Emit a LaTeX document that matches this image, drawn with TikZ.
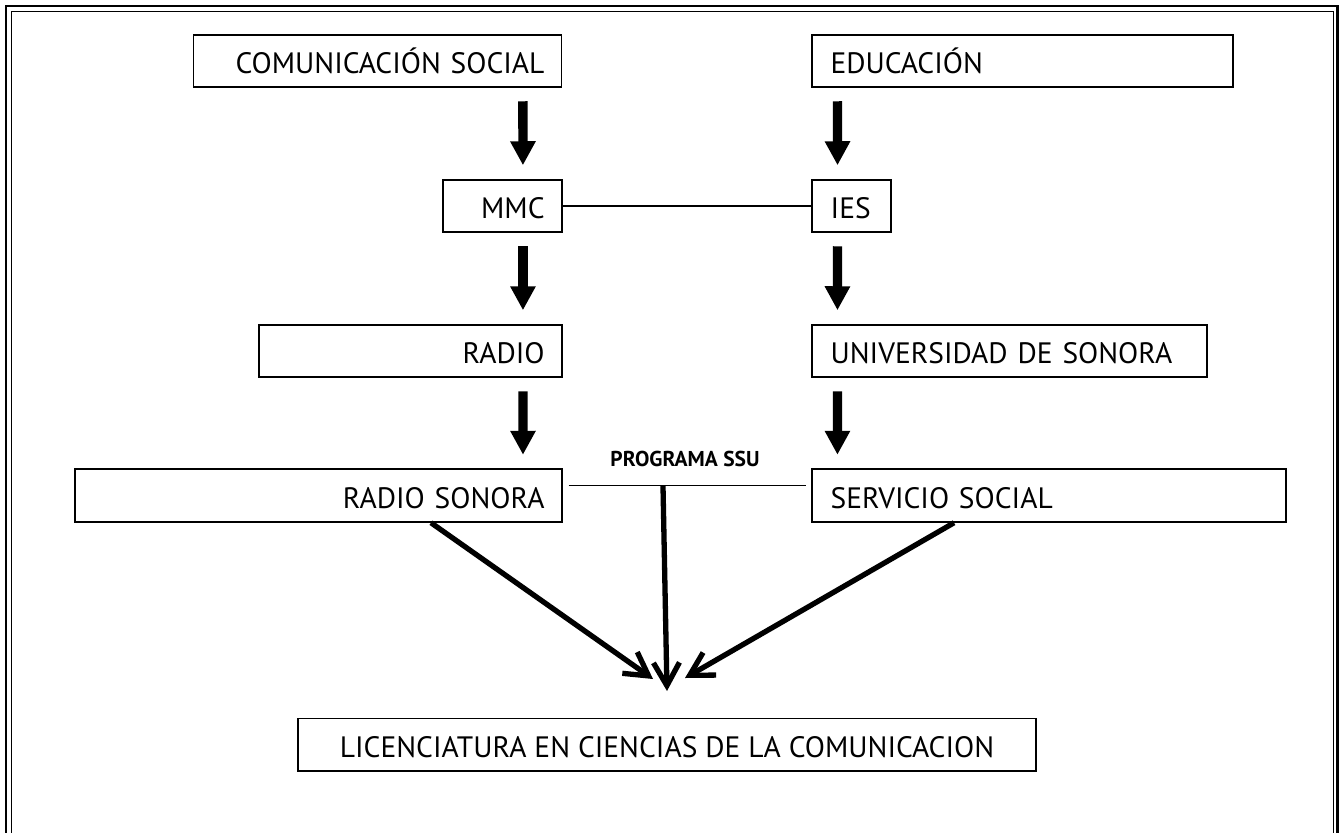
\documentclass[tikz,border=0pt]{standalone}
\usepackage{fontspec}
\setmainfont{PT Sans}
\usetikzlibrary{arrows.meta}

\begin{document}
\begin{tikzpicture}[x=1pt, y=-1pt,
    caja/.style={draw, line width=1.9pt, minimum height=52.6pt, inner ysep=0pt,
                 text height=25pt, text depth=0pt, font=\fontsize{29.5}{32}\selectfont},
    izq/.style={caja, align=right, inner xsep=17pt, text width=#1},
    der/.style={caja, align=left, inner xsep=19pt, text width=#1},
    bloque/.style={line width=9.3pt, -{Triangle[width=24pt, length=24pt]},
                   shorten <=13pt, shorten >=13.5pt},
    flecha/.style={line width=5.3pt, -{Straight Barb[length=23pt, width=26pt]}},
    enlace/.style={line width=1.9pt}]
    \useasboundingbox (0,0) rectangle (1342,833);

    % marco doble (sigue hacia abajo)
    \draw[line width=2.5pt] (6,840) -- (6,6) -- (1337.7,6) -- (1337.7,840);
    \draw[line width=1.5pt] (11.3,840) -- (11.3,11.7) -- (1333.3,11.7) -- (1333.3,840);

    % columna izquierda
    \node[izq=334pt]   (comu)    at (377.5,61)   {COMUNICACIÓN SOCIAL};
    \node[izq=85pt]    (mmc)     at (502.1,206)  {MMC};
    \node[izq=269pt]   (radio)   at (410.1,351)  {RADIO};
    \node[izq=452.3pt] (rsonora) at (318.5,495.5) {RADIO SONORA};

    % columna derecha
    \node[der=383.3pt] (edu)      at (1022.2,61)  {EDUCACIÓN};
    \node[der=41pt]    (ies)      at (851.2,206)  {IES};
    \node[der=357.6pt] (univ)     at (1009.4,351) {UNIVERSIDAD DE SONORA};
    \node[der=436.4pt] (servicio) at (1048.8,495.5) {SERVICIO SOCIAL};

    \node[caja, minimum width=738pt] (lic) at (667,744.8)
         {LICENCIATURA EN CIENCIAS DE LA COMUNICACION};

    \draw[bloque] ([xshift=-39.6]comu.south east)  -- ([xshift=-39.6]mmc.north east);
    \draw[bloque] ([xshift=-39.6]mmc.south east)   -- ([xshift=-39.6]radio.north east);
    \draw[bloque] ([xshift=-39.6]radio.south east) -- ([xshift=-39.6]rsonora.north east);
    \draw[bloque] ([xshift=26.8]edu.south west)  -- ([xshift=26.8]ies.north west);
    \draw[bloque] ([xshift=26.8]ies.south west)  -- ([xshift=26.8]univ.north west);
    \draw[bloque] ([xshift=26.8]univ.south west) -- ([xshift=26.8]servicio.north west);

    \draw[enlace] (mmc) -- (ies);
    \draw[enlace, shorten <=6pt, shorten >=5pt] ([yshift=10]rsonora.east) -- ([yshift=10]servicio.west);

    \node[font=\bfseries\fontsize{21.5}{24}\selectfont] (ssu) at (685,458.7) {PROGRAMA SSU};

    % las tres flechas hacia la licenciatura
    \coordinate (cruce)  at (663,486);
    \coordinate (puntaI) at (653,679);
    \coordinate (puntaC) at (667,691);
    \coordinate (puntaD) at (685,678);
    \draw[flecha] ([xshift=-131.6]rsonora.south east) -- (puntaI);
    \draw[flecha] (cruce) -- (puntaC);
    \draw[flecha] ([xshift=143.4]servicio.south west) -- (puntaD);
\end{tikzpicture}
\end{document}
